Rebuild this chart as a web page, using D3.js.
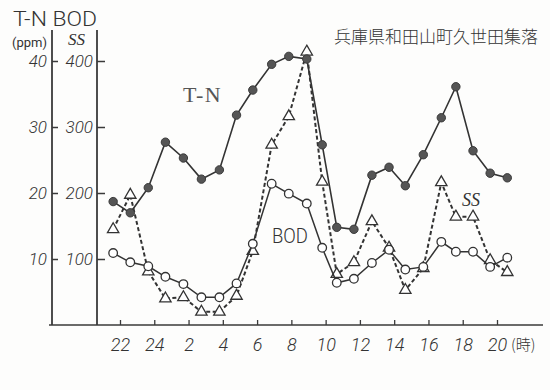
<!DOCTYPE html>
<html>
<head>
<meta charset="utf-8">
<script src="https://cdn.jsdelivr.net/npm/d3@7/dist/d3.min.js"></script>
<style>
  html, body { margin: 0; padding: 0; background: #fdfdfc; }
  svg { display: block; }
  text { fill: #333; }
</style>
</head>
<body>
<svg id="chart" width="550" height="390"></svg>
<script>
// Sampling times (hours, continuing past midnight: 26 = 2 o'clock next day)
const hours = [21.6, 22.6, 23.65, 24.65, 25.7, 26.75, 27.8, 28.8, 29.75, 30.85, 31.85, 32.9,
               33.8, 34.65, 35.65, 36.7, 37.7, 38.65, 39.7, 40.75, 41.6, 42.6, 43.6, 44.6];
// T-N (ppm)
const tn  = [18.7, 17.0, 20.8, 27.7, 25.3, 22.1, 23.5, 31.8, 35.6, 39.5, 40.7, 40.3,
             27.3, 14.8, 14.5, 22.7, 23.9, 21.1, 25.8, 31.4, 36.1, 26.4, 23.0, 22.3];
// BOD (ppm)
const bod = [109, 95, 89, 73, 62, 42, 42, 63, 123, 214, 199, 184,
             117, 64, 70, 94, 114, 84, 88, 126, 111, 111, 88, 102];
// SS (ppm)
const ss  = [145, 197, 81, 40, 42, 20, 20, 44, 112, 273, 316, 414,
             217, 77, 95, 157, 117, 53, 86, 216, 164, 164, 98, 80];

const xTicks = [22, 24, 26, 28, 30, 32, 34, 36, 38, 40, 42, 44];
const xTickLabels = ["22", "24", "2", "4", "6", "8", "10", "12", "14", "16", "18", "20"];
const tnTicks = [10, 20, 30, 40];
const ssTicks = [100, 200, 300, 400];

const svg = d3.select("#chart");
const ink = "#333";
const sans = "Roboto, 'Liberation Sans', Arial, sans-serif";
const serif = "'Liberation Serif', 'DejaVu Serif', serif";
const cjk = "'Noto Sans CJK JP', sans-serif";

const x = d3.scaleLinear().domain([22, 44]).range([120, 497]);
const yTN = d3.scaleLinear().domain([0, 40]).range([325, 61]);
const ySS = d3.scaleLinear().domain([0, 400]).range([325, 61]);

const axisTop = 30, baseY = yTN(0);
const tnAxisX = 52, ssAxisX = 97;

// vertical axis rules
svg.append("line").attr("x1", tnAxisX).attr("x2", tnAxisX).attr("y1", axisTop).attr("y2", baseY)
  .attr("stroke", "#3a3a3a").attr("stroke-width", 1.8);
svg.append("line").attr("x1", ssAxisX).attr("x2", ssAxisX).attr("y1", axisTop).attr("y2", baseY)
  .attr("stroke", "#3a3a3a").attr("stroke-width", 1.8);
// baseline
svg.append("line").attr("x1", 49).attr("x2", 543).attr("y1", baseY).attr("y2", baseY)
  .attr("stroke", "#3a3a3a").attr("stroke-width", 1.6);

function styleAxis(g) {
  g.select(".domain").remove();
  g.selectAll(".tick line").attr("stroke", "#3a3a3a").attr("stroke-width", 1.5);
  g.selectAll(".tick text").attr("fill", ink).attr("font-style", "italic")
    .attr("font-family", sans).attr("font-weight", 300).attr("font-size", 17);
}

svg.append("g").attr("transform", `translate(${tnAxisX},0)`)
  .call(d3.axisLeft(yTN).tickValues(tnTicks).tickSizeInner(-6).tickSizeOuter(0).tickPadding(5))
  .call(styleAxis);
svg.append("g").attr("transform", `translate(${ssAxisX},0)`)
  .call(d3.axisLeft(ySS).tickValues(ssTicks).tickSizeInner(-8).tickSizeOuter(0).tickPadding(4))
  .call(styleAxis);

const xAxis = svg.append("g").attr("transform", `translate(0,${baseY})`)
  .call(d3.axisBottom(x).tickValues(xTicks)
    .tickFormat((d, i) => xTickLabels[i]).tickSizeInner(-5).tickSizeOuter(0).tickPadding(13))
  .call(styleAxis);
xAxis.selectAll(".tick line").attr("stroke-width", 1.3);
xAxis.selectAll(".tick text").attr("font-size", 18);

// axis headings
svg.append("text").attr("x", 13).attr("y", 26).text("T-N BOD")
  .attr("font-family", sans).attr("font-weight", 300).attr("font-size", 20)
  .attr("textLength", 84).attr("lengthAdjust", "spacingAndGlyphs");
svg.append("text").attr("x", 12).attr("y", 47).text("(ppm)")
  .attr("font-family", sans).attr("font-size", 13);
svg.append("text").attr("x", 68).attr("y", 45).text("SS")
  .attr("font-family", serif).attr("font-style", "italic").attr("font-size", 17);
svg.append("text").attr("x", 511).attr("y", 350).text("(時)")
  .attr("font-family", cjk).attr("font-weight", 300).attr("font-size", 15);

// title
svg.append("text").attr("x", 334).attr("y", 43).text("兵庫県和田山町久世田集落")
  .attr("font-family", cjk).attr("font-weight", 300).attr("font-size", 17)
  .attr("textLength", 204).attr("lengthAdjust", "spacingAndGlyphs");

// series
const ssLine = d3.line().x((d, i) => x(hours[i])).y(d => ySS(d));
const bodLine = d3.line().x((d, i) => x(hours[i])).y(d => ySS(d));
const tnLine = d3.line().x((d, i) => x(hours[i])).y(d => yTN(d));

svg.append("path").datum(ss).attr("d", ssLine).attr("fill", "none")
  .attr("stroke", ink).attr("stroke-width", 2).attr("stroke-dasharray", "4,2.5");
svg.append("g").selectAll("path").data(ss).join("path")
  .attr("transform", (d, i) => `translate(${x(hours[i])},${ySS(d)})`)
  .attr("d", d3.symbol(d3.symbolTriangle, 56))
  .attr("fill", "#fff").attr("stroke", ink).attr("stroke-width", 1.3);

svg.append("path").datum(bod).attr("d", bodLine).attr("fill", "none")
  .attr("stroke", ink).attr("stroke-width", 1.5);
svg.append("g").selectAll("circle").data(bod).join("circle")
  .attr("cx", (d, i) => x(hours[i])).attr("cy", d => ySS(d)).attr("r", 4.3)
  .attr("fill", "#fff").attr("stroke", ink).attr("stroke-width", 1.3);

svg.append("path").datum(tn).attr("d", tnLine).attr("fill", "none")
  .attr("stroke", ink).attr("stroke-width", 1.6);
svg.append("g").selectAll("circle").data(tn).join("circle")
  .attr("cx", (d, i) => x(hours[i])).attr("cy", d => yTN(d)).attr("r", 4.2)
  .attr("fill", "#555").attr("stroke", "#3a3a3a").attr("stroke-width", 1);

// series labels
svg.append("text").attr("x", 183).attr("y", 102).text("T-N")
  .attr("font-family", serif).attr("font-size", 22).style("fill", "#555")
  .attr("letter-spacing", 1.5);
svg.append("text").attr("x", 272).attr("y", 243).text("BOD")
  .attr("font-family", sans).attr("font-weight", 300).attr("font-size", 20)
  .attr("textLength", 36).attr("lengthAdjust", "spacingAndGlyphs");
svg.append("text").attr("x", 462).attr("y", 206).text("SS")
  .attr("font-family", serif).attr("font-style", "italic").attr("font-size", 18);
</script>
</body>
</html>
